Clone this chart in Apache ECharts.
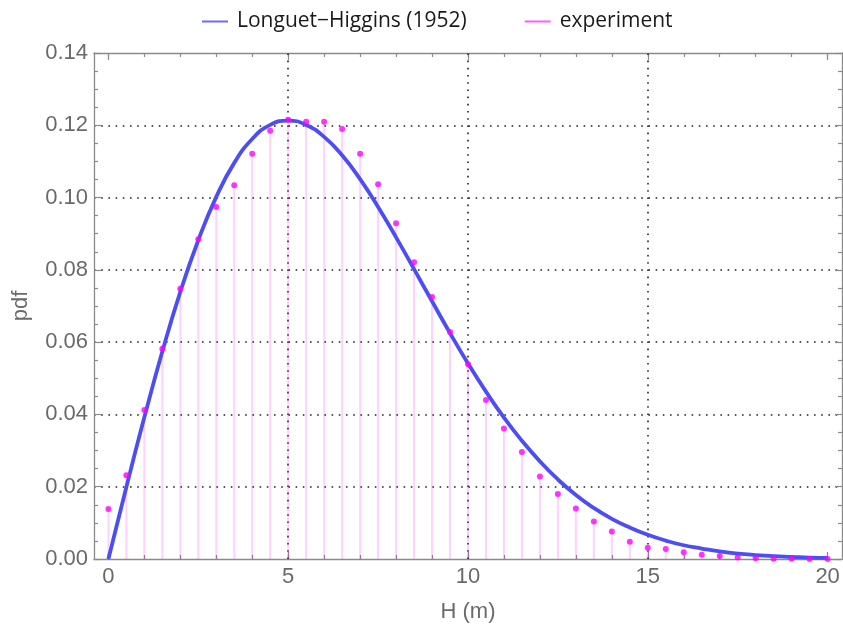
<!DOCTYPE html>
<html>
<head>
<meta charset="utf-8">
<script src="https://cdn.jsdelivr.net/npm/echarts@6/dist/echarts.min.js"></script>
<style>html,body{margin:0;padding:0;background:#fff}#c{width:843px;height:630px}</style>
</head>
<body>
<div id="c"></div>
<script>
// Longuet-Higgins (1952) curve
var curveH   = [0,0.5,1,1.5,2,2.5,3,3.5,4,4.5,5,5.5,6,6.5,7,7.5,8,8.5,9,9.5,10,10.5,11,11.5,12,12.5,13,13.5,14,14.5,15,15.5,16,16.5,17,17.5,18,18.5,19,19.5,20];
var curvePdf = [0,0.0199,0.0392,0.0574,0.0739,0.0882,0.1002,0.1096,0.1162,0.1201,0.1213,0.1201,0.1168,0.1117,0.1051,0.0974,0.0890,0.0802,0.0713,0.0625,0.0541,0.0463,0.0391,0.0327,0.0270,0.0220,0.0177,0.0141,0.0111,0.0087,0.0067,0.0051,0.0038,0.0029,0.0021,0.0015,0.0011,0.0008,0.0006,0.0004,0.0003];
// experiment
var expH   = [0,0.5,1,1.5,2,2.5,3,3.5,4,4.5,5,5.5,6,6.5,7,7.5,8,8.5,9,9.5,10,10.5,11,11.5,12,12.5,13,13.5,14,14.5,15,15.5,16,16.5,17,17.5,18,18.5,19,19.5,20];
var expPdf = [0.0138,0.0232,0.0412,0.0582,0.0748,0.0885,0.0974,0.1034,0.1121,0.1185,0.1215,0.1210,0.1210,0.1190,0.1121,0.1037,0.0929,0.0821,0.0725,0.0628,0.0539,0.0440,0.0361,0.0296,0.0228,0.0180,0.0140,0.0104,0.0076,0.0048,0.0031,0.0028,0.0019,0.0012,0.0008,0.0004,0.0002,0.0001,0.0001,0.0000,0.0000];
// ticks
var xLabelTicks = [0,5,10,15,20];
var xMinorTicks = [0,1,2,3,4,5,6,7,8,9,10,11,12,13,14,15,16,17,18,19,20];
var xGridLines  = [5,10,15];

var frameColor = '#8a8a8a';
var labelColor = '#6a6a6a';
var fontFam = "'Liberation Sans', Arial, sans-serif";

function pairs(a,b){ return a.map(function(v,i){ return [v,b[i]]; }); }

function xAx(pos, showLine, ticks, len, labels){
  return {
    type:'value', position:pos, min:-0.4, max:20.4, gridIndex:0,
    axisLine:{show:showLine, onZero:false, lineStyle:{color:frameColor, width:1.3}},
    axisTick:{show:true, inside:true, length:len, customValues:ticks, lineStyle:{color:frameColor, width:1.2}},
    axisLabel:{show:!!labels, customValues:labels||ticks, color:labelColor, fontSize:22, fontFamily:fontFam, margin:7},
    splitLine:{show:false}
  };
}
var xAxes = [
  xAx('bottom', true, xMinorTicks, 4, xLabelTicks),
  xAx('bottom', false, xLabelTicks, 7, null),
  xAx('top', true, xMinorTicks, 4, null),
  xAx('top', false, xLabelTicks, 7, null)
];
xAxes[0].name = 'H (m)';
xAxes[0].nameLocation = 'middle';
xAxes[0].nameGap = 42;
xAxes[0].nameTextStyle = {color:labelColor, fontSize:22, fontFamily:fontFam};

function yAx(pos, labels, split){
  return {
    type:'value', position:pos, min:0, max:0.14, interval:0.02,
    axisLine:{show:true, onZero:false, lineStyle:{color:frameColor, width:1.3}},
    axisTick:{show:true, inside:true, length:7, lineStyle:{color:frameColor, width:1.2}},
    minorTick:{show:true, splitNumber:4, length:4, lineStyle:{color:frameColor, width:1.2}},
    axisLabel:{show:labels, color:labelColor, fontSize:22, fontFamily:fontFam, margin:6,
      formatter:function(v){ return v.toFixed(2); }},
    splitLine:{show:split, showMinLine:false, showMaxLine:false, lineStyle:{color:'#222', width:1.6, type:[1.6,5.6]}}
  };
}
var yAxes = [yAx('left', true, true), yAx('right', false, false)];
yAxes[0].name = 'pdf';
yAxes[0].nameLocation = 'middle';
yAxes[0].nameGap = 62;
yAxes[0].nameTextStyle = {color:labelColor, fontSize:22, fontFamily:fontFam};

var chart = echarts.init(document.getElementById('c'), null, {renderer:'canvas'});
chart.setOption({
  animation:false,
  backgroundColor:'#fff',
  grid:{left:94, top:53, right:1, bottom:71, containLabel:false},
  legend:{
    left:197, top:6, itemGap:58, itemWidth:26, itemHeight:2, icon:'rect',
    textStyle:{color:'#1a1a1a', fontSize:21, fontFamily:"'Open Sans', sans-serif", padding:[0,0,0,4]},
    data:[
      {name:'Longuet\u2212Higgins (1952)', itemStyle:{color:'#6b6bff'}},
      {name:'experiment', itemStyle:{color:'#ff33ff'}}
    ]
  },
  xAxis:xAxes,
  yAxis:yAxes,
  series:[
    {
      name:'vgrid', type:'line', data:[], z:1, silent:true,
      markLine:{silent:true, symbol:'none', z:1, label:{show:false},
        lineStyle:{color:'#222', width:1.6, type:[1.6,5.6]},
        data:xGridLines.map(function(v){ return {xAxis:v}; })}
    },
    {
      name:'stems', type:'bar', barWidth:2, z:2, silent:true,
      itemStyle:{color:'rgba(255,0,255,0.18)'},
      data:pairs(expH, expPdf)
    },
    {
      name:'Longuet\u2212Higgins (1952)', type:'line', smooth:true, showSymbol:false, z:3,
      lineStyle:{color:'#4d4df4', width:3.8},
      itemStyle:{color:'#4d4df4'},
      data:pairs(curveH, curvePdf)
    },
    {
      name:'experiment', type:'scatter', symbolSize:6, z:4,
      itemStyle:{color:'#ff00ff'},
      data:pairs(expH, expPdf)
    }
  ]
});
</script>
</body>
</html>
